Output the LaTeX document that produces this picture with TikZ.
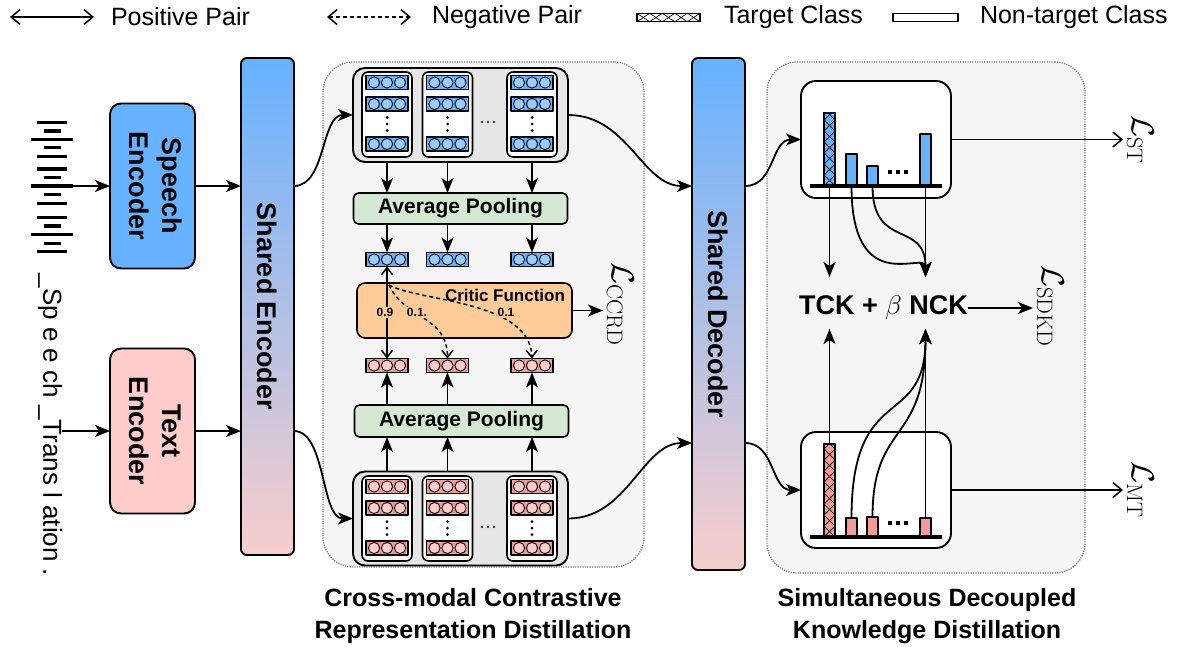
\RequirePackage{fix-cm}
\documentclass[tikz,border=0pt]{standalone}
\usepackage[no-math]{fontspec}
\setmainfont{Liberation Sans}
\usepackage{graphicx}
\usetikzlibrary{arrows.meta,calc}
\definecolor{cblue}{HTML}{66B2FF}
\definecolor{cbluel}{HTML}{99CCFF}
\definecolor{cpink}{HTML}{FFCCCC}
\definecolor{cpinkd}{HTML}{F19C99}
\definecolor{cgradb}{HTML}{F8CECC}
\definecolor{cpanel}{HTML}{F5F5F5}
\definecolor{cgray}{HTML}{E6E6E6}
\definecolor{cgreen}{HTML}{D5E8D4}
\definecolor{corange}{HTML}{FFCC99}
\definecolor{cdots}{HTML}{808080}
\newcommand\fsz[1]{\fontsize{#1}{#1}\selectfont}
\newcommand\rot[1]{\rotatebox{-90}{#1}}
\newcommand\vcell[4]{%
  \node[cellbox,fill=#3] (#1) at (#2) {};
  \foreach \dx in {-13,0,13}{\draw[line width=0.9pt,fill=#4] ($(#1)+(\dx,0)$) circle[radius=5.6pt];}%
}
\newcommand\xhatchv[3]{%
  \begin{scope}
    \clip (#1.north west) rectangle (#1.south east);
    \foreach \k in {0,...,#3}{%
      \draw[line width=0.7pt] ($(#1.south west)+(0,{-\k*#2})$) -- ($(#1.south east)+(0,{-(\k+1)*#2})$);
      \draw[line width=0.7pt] ($(#1.south east)+(0,{-\k*#2})$) -- ($(#1.south west)+(0,{-(\k+1)*#2})$);
    }
  \end{scope}
  \draw[line width=1.4pt] (#1.north west) rectangle (#1.south east);
}
\begin{document}
\begin{tikzpicture}[x=1pt,y=-1pt,line join=round,
  every node/.style={inner sep=0pt,outer sep=0pt},
  arr/.style={line width=1.8pt,-{Stealth[length=15pt,width=12pt,inset=4pt]}},
  oarr/.style={line width=1.5pt,-{Straight Barb[length=9pt,width=15pt]}},
  biarr/.style={line width=1.5pt,{Straight Barb[length=9pt,width=15pt]}-{Straight Barb[length=9pt,width=15pt]}},
  pparr/.style={line width=1.5pt,{Straight Barb[length=7pt,width=11pt]}-{Straight Barb[length=7pt,width=11pt]}},
  nparr/.style={line width=1.5pt,dash pattern=on 4pt off 3pt,-{Straight Barb[length=7pt,width=11pt]}},
  panel/.style={draw=cdots,line width=1.3pt,dash pattern=on 1.2pt off 1.2pt,fill=cpanel,rounded corners=30pt},
  encbox/.style={draw,line width=1.9pt,rounded corners=11pt,minimum width=85pt,minimum height=165pt},
  sharedbar/.style={draw,line width=1.9pt,rounded corners=6pt,top color=cblue,bottom color=cgradb,minimum width=53pt},
  cont/.style={draw,line width=1.9pt,fill=cgray,rounded corners=12pt,minimum width=215pt,minimum height=94pt},
  colbox/.style={draw,line width=1.6pt,fill=white,rounded corners=6pt,minimum width=50pt,minimum height=85pt},
  cellbox/.style={draw,line width=1.2pt,minimum width=42pt,minimum height=14pt},
  pool/.style={draw,line width=1.6pt,fill=cgreen,rounded corners=5pt,minimum width=214pt,minimum height=31pt,font=\fsz{21}\bfseries},
  hbox/.style={draw,line width=1.9pt,fill=white,rounded corners=15pt,minimum width=150pt},
  barbox/.style={draw,line width=1.4pt,minimum width=11pt,anchor=south},
  lbl/.style={anchor=west,font=\fsz{25}},
  ttl/.style={align=center,font=\fontsize{25}{32}\selectfont\bfseries},
  num/.style={font=\fsz{12}\bfseries,fill=corange,inner sep=1pt},
  loss/.style={anchor=west,font=\fsz{32}},
]
\useasboundingbox (0,0) rectangle (1182,648);
% ---------- legend ----------
\coordinate (lp1) at (10,17); \coordinate (lp2) at (94,17);
\draw[biarr] (lp1) -- (lp2);
\node[lbl] (lpos) at (111,17) {Positive Pair};
\coordinate (ln1) at (327,17); \coordinate (ln2) at (411,17);
\draw[biarr,dash pattern=on 4pt off 3pt] (ln1) -- (ln2);
\node[lbl] (lneg) at (432,17) {Negative Pair};
\node[draw,line width=1.4pt,fill=white,minimum width=63pt,minimum height=8.5pt] (lgt) at (668.5,17.5) {};
\begin{scope}
  \clip (lgt.north west) rectangle (lgt.south east);
  \foreach \k in {0,...,4}{
    \draw[line width=0.7pt] ($(lgt.north west)+({\k*12.6},0)$) -- ($(lgt.south west)+({(\k+1)*12.6},0)$);
    \draw[line width=0.7pt] ($(lgt.south west)+({\k*12.6},0)$) -- ($(lgt.north west)+({(\k+1)*12.6},0)$);
  }
\end{scope}
\draw[line width=1.4pt] (lgt.north west) rectangle (lgt.south east);
\node[lbl] (ltgt) at (724,17) {Target Class};
\node[draw,line width=1.4pt,fill=white,minimum width=65pt,minimum height=8.5pt] (lnt) at (925.5,17.5) {};
\node[lbl] (lntgt) at (980,17) {Non-target Class};
% ---------- panels ----------
\node[panel,minimum width=321pt,minimum height=505pt] (pccrd) at (483.5,314.5) {};
\node[panel,minimum width=318pt,minimum height=511pt] (psdkd) at (926,317.5) {};
% ---------- inputs ----------
\foreach \yy/\ww in {122.7/30,131/17,139.3/42,147.7/17,156.7/30,169/30,177.7/17,186/42,194.7/17,203.3/30,217.3/30,226/17,234.7/42,243.3/17,251.7/30}{
  \draw[line width=3.2pt] ({52-\ww/2},\yy) -- ({52+\ww/2},\yy);}
\coordinate (wave) at (52,186);
\node (intext) at (50,425) {\rot{\fsz{26}\_Sp e e ch \_Trans l ation .}};
\node[encbox,fill=cblue] (spenc) at (152.5,186) {\rot{\fontsize{27}{33}\selectfont\bfseries\begin{tabular}{@{}c@{}}Speech\\Encoder\end{tabular}}};
\node[encbox,fill=cpink] (tenc) at (152.5,431) {\rot{\fontsize{27}{33}\selectfont\bfseries\begin{tabular}{@{}c@{}}Text\\Encoder\end{tabular}}};
\node[sharedbar,minimum height=497pt] (senc) at (267.5,306.5) {\rot{\fsz{27}\bfseries Shared Encoder}};
\node[sharedbar,minimum height=512pt] (sdec) at (718.5,314) {\rot{\fsz{27}\bfseries Shared Decoder}};
\draw[arr] (wave) -- (spenc.west);
\draw[arr] (intext.east |- tenc.west) -- (tenc.west);
\draw[arr] (spenc.east) -- (senc.west |- spenc.east);
\draw[arr] (tenc.east) -- (senc.west |- tenc.east);
% ---------- CCRD ----------
\node[cont] (topc) at (460.5,115) {};
\node[cont] (botc) at (460.5,518.5) {};
\node[pool] (pool1) at (460.5,208.5) {Average Pooling};
\node[pool,minimum height=32pt] (pool2) at (461.5,421) {Average Pooling};
\node[draw,line width=1.6pt,fill=corange,rounded corners=8pt,minimum width=215pt,minimum height=55pt] (critic) at (464.5,310.5) {};
\node[font=\fsz{17}\bfseries] (ctext) at (505,295) {Critic Function};
\foreach \i/\xx in {1/387,2/447.5,3/532}{
  \node[colbox] (tc\i) at (\xx,114.5) {};
  \vcell{tca\i}{\xx,82.5}{cblue}{cbluel}
  \vcell{tcb\i}{\xx,104}{cblue}{cbluel}
  \vcell{tcc\i}{\xx,144}{cblue}{cbluel}
  \foreach \dd in {3,9.5,16}{\fill ($(tc\i)+(0,\dd)$) circle[radius=1.5pt];}
  \node[colbox] (bc\i) at (\xx,518.5) {};
  \vcell{bca\i}{\xx,486.5}{cpinkd}{cpink}
  \vcell{bcb\i}{\xx,508}{cpinkd}{cpink}
  \vcell{bcc\i}{\xx,548}{cpinkd}{cpink}
  \foreach \dd in {3,9.5,16}{\fill ($(bc\i)+(0,\dd)$) circle[radius=1.5pt];}
  \vcell{pb\i}{\xx,259.5}{cblue}{cbluel}
  \vcell{pp\i}{\xx,365.5}{cpinkd}{cpink}
  \draw[arr] (tc\i |- topc.south) -- (tc\i |- pool1.north);
  \draw[arr] (pb\i |- pool1.south) -- (pb\i.north);
  \draw[arr] (bc\i |- botc.north) -- (bc\i |- pool2.south);
  \draw[arr] (pp\i |- pool2.north) -- (pp\i.south);
}
\foreach \xx in {482,488,494}{\fill (\xx,122) circle[radius=1.2pt]; \fill (\xx,527) circle[radius=1.2pt];}
\coordinate (nstart) at (389,285);
\draw[pparr] (pp1.north) -- (pb1.south);
\draw[nparr] (nstart) .. controls (405,320) and (447,315) .. (pp2.north);
\draw[nparr] (nstart) .. controls (420,302) and (530,300) .. (pp3.north);
\node[num] (n09) at (385,312.5) {0.9};
\node[num] (n01a) at (417,312.5) {0.1.};
\node[num] (n01b) at (506,312.5) {0.1};
\node[loss] (lccrd) at (607,304) {\rot{$\mathcal{L}_{\mathrm{CCRD}}$}};
\draw[arr,shorten >=4pt] (critic.east) -- (critic.east -| lccrd.west);
% connectors encoder/decoder
\coordinate (dhi) at (sdec.west |- spenc.east);
\coordinate (dlo) at (sdec.west |- 0,443);
\coordinate (dohi) at (sdec.east |- spenc.east);
\coordinate (dolo) at (sdec.east |- 0,443);
\draw[arr] (senc.east |- spenc.east) .. controls +(32,0) and +(-32,0) .. (topc.west);
\draw[arr] (senc.east |- tenc.east) .. controls +(32,0) and +(-32,0) .. (botc.west);
\draw[arr] (topc.east) .. controls +(60,0) and +(-50,0) .. (dhi);
\draw[arr] (botc.east) .. controls +(60,0) and +(-50,0) .. (dlo);
% ---------- SDKD ----------
\node[hbox,minimum height=117pt] (htop) at (876,139.5) {};
\node[hbox,minimum height=116pt] (hbot) at (876,490) {};
\draw[arr] (dohi) .. controls +(30,0) and +(-30,0) .. (htop.west);
\draw[arr] (dolo) .. controls +(30,0) and +(-30,0) .. (hbot.west);
\node[barbox,fill=cblue,minimum height=73pt] (ta1) at (829.5,186) {};
\xhatchv{ta1}{11}{7}
\node[barbox,fill=cblue,minimum height=32pt] (ta2) at (851.5,186) {};
\node[barbox,fill=cblue,minimum height=20pt] (ta3) at (872.5,186) {};
\node[barbox,fill=cblue,minimum height=52pt] (ta4) at (925.5,186) {};
\draw[line width=3.5pt] (810,186) -- (942,186);
\node[barbox,fill=cpinkd,minimum height=93pt] (ba1) at (829.5,537) {};
\xhatchv{ba1}{11}{9}
\node[barbox,fill=cpinkd,minimum height=19pt] (ba2) at (851.5,537) {};
\node[barbox,fill=cpinkd,minimum height=20pt] (ba3) at (872.5,537) {};
\node[barbox,fill=cpinkd,minimum height=19pt] (ba4) at (925.5,537) {};
\draw[line width=3.5pt] (810,537) -- (942,537);
\foreach \xx in {890,898,906}{\fill (\xx-2,170) rectangle ++(4,4); \fill (\xx-2,521) rectangle ++(4,4);}
\node[font=\fsz{27}\bfseries] (formula) at (883.5,308) {TCK + $\beta$ NCK};
\coordinate (tckT) at (829.5,277); \coordinate (nckT) at (925.5,277);
\coordinate (tckB) at (829.5,329); \coordinate (nckB) at (925.5,329);
\draw[arr] (ta1.south) -- (tckT);
\draw[arr] (ta4.south) -- (nckT);
\draw[arr] (ta2.south) .. controls +(0,114) and +(0,-27) .. (nckT);
\draw[arr] (ta3.south) .. controls +(0,64) and +(0,-57) .. (nckT);
\draw[arr] (ba1.north) -- (tckB);
\draw[arr] (ba4.north) -- (nckB);
\draw[arr] (ba2.north) .. controls +(0,-138) and +(0,102) .. (nckB);
\draw[arr] (ba3.north) .. controls +(0,-97) and +(0,117) .. (nckB);
\node[loss] (lst) at (1127,139.5) {\rot{$\mathcal{L}_{\mathrm{ST}}$}};
\node[loss] (lmt) at (1127,490) {\rot{$\mathcal{L}_{\mathrm{MT}}$}};
\node[loss] (lsdkd) at (1037,306) {\rot{$\mathcal{L}_{\mathrm{SDKD}}$}};
\draw[oarr,shorten >=4pt] (htop.east) -- (htop.east -| lst.west);
\draw[oarr,shorten >=4pt] (hbot.east) -- (hbot.east -| lmt.west);
\draw[arr,shorten >=4pt] (formula.east) -- (formula.east -| lsdkd.west);
% ---------- titles ----------
\node[ttl] (tccrd) at (473,616) {Cross-modal Contrastive\\Representation Distillation};
\node[ttl] (tsdkd) at (927,616) {Simultaneous Decoupled\\Knowledge Distillation};
\end{tikzpicture}
\end{document}
